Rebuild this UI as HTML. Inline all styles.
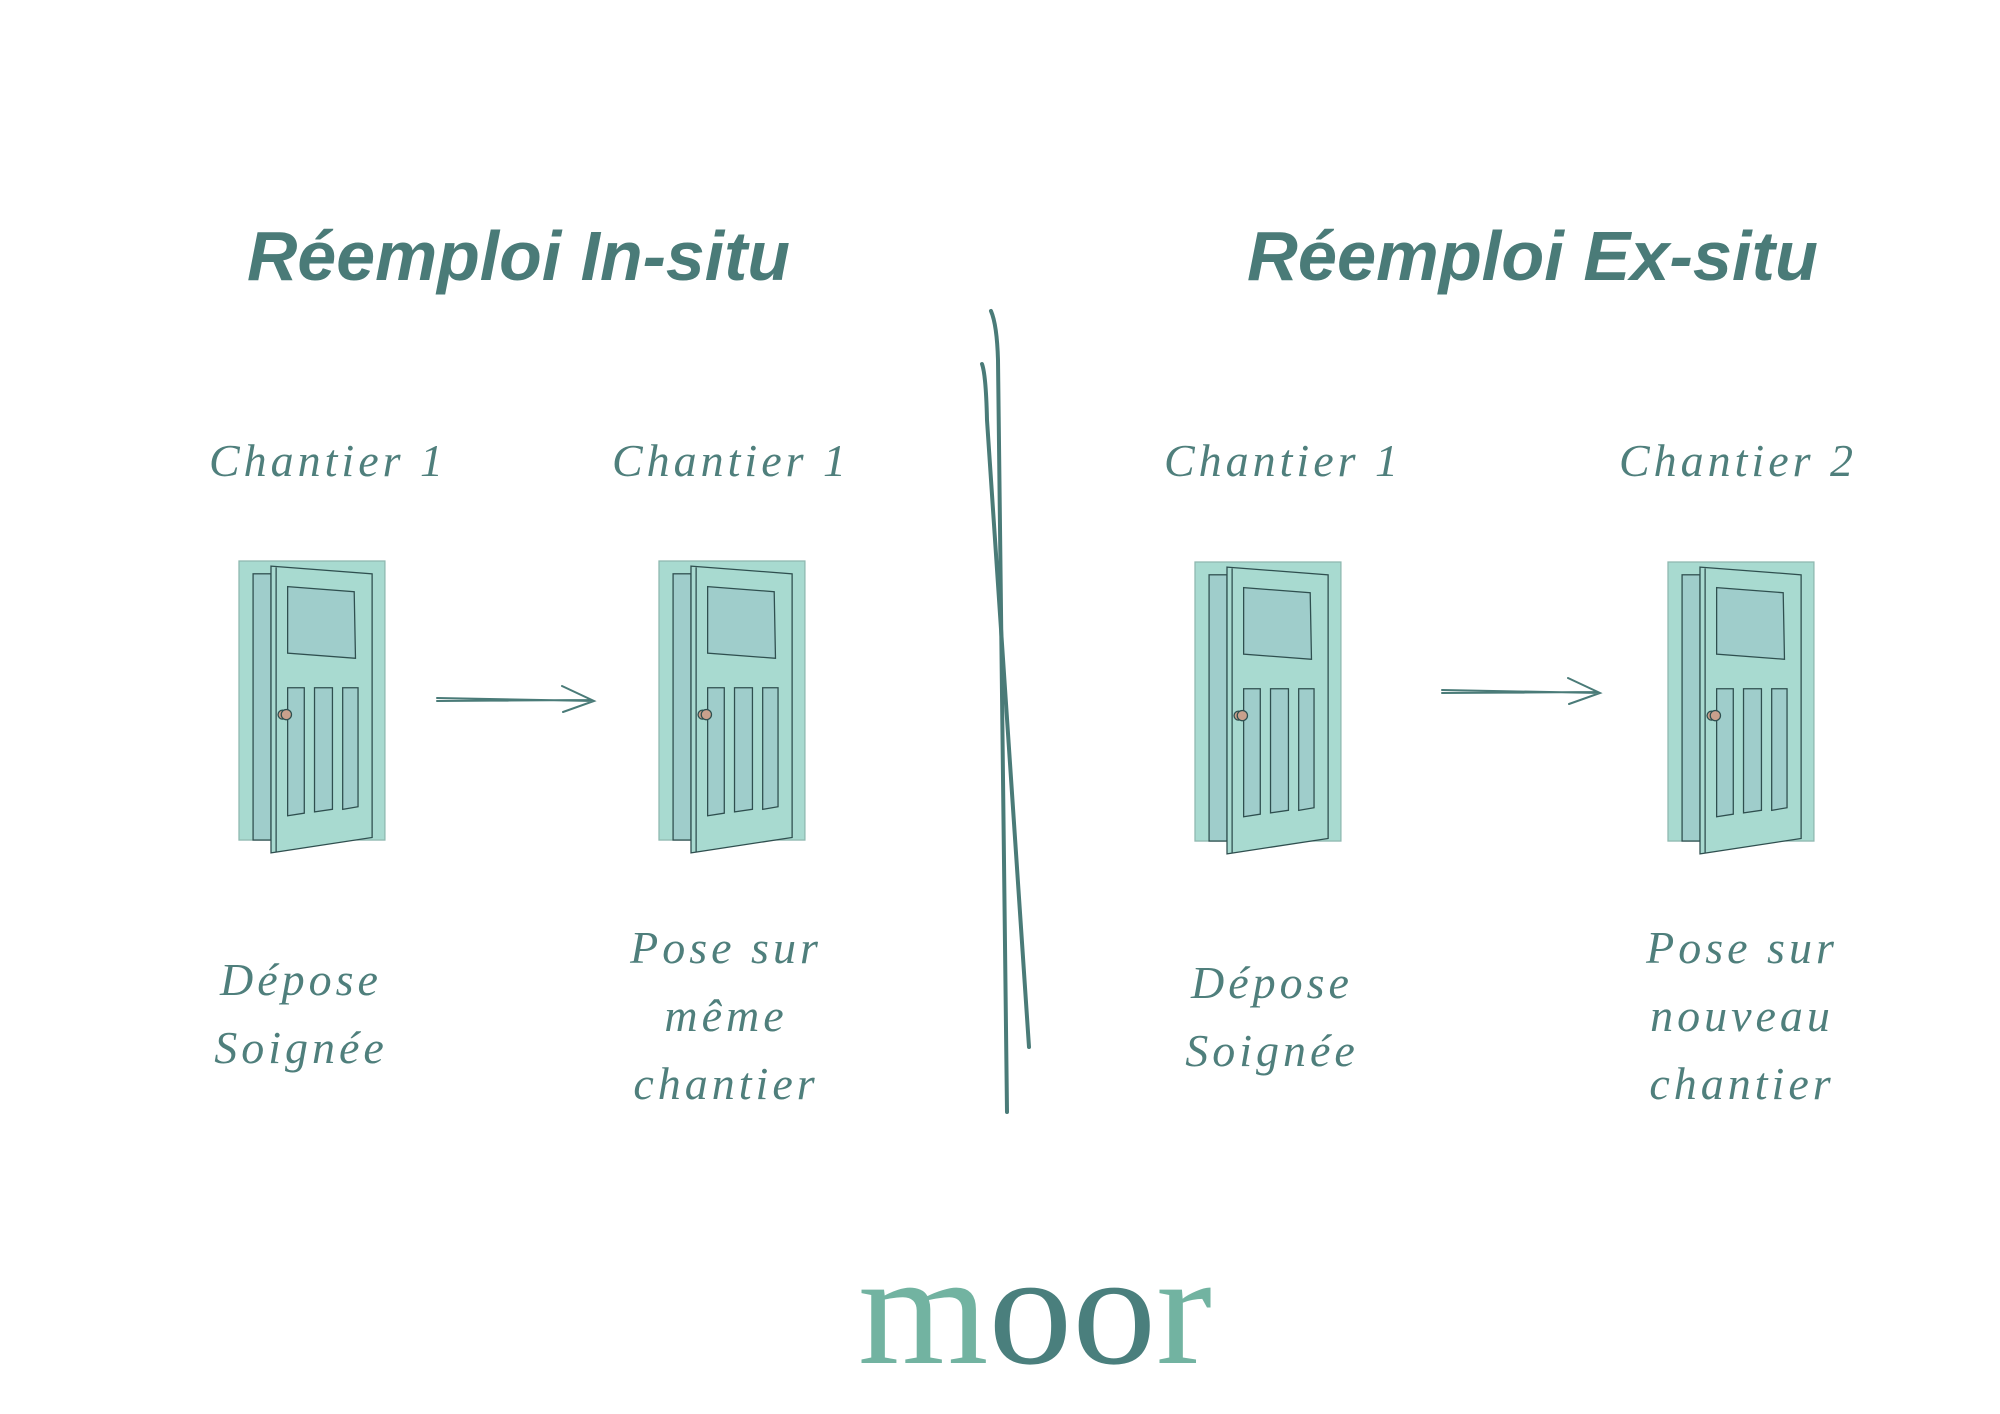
<!DOCTYPE html>
<html><head><meta charset="utf-8"><style>
html,body{margin:0;padding:0;background:#fff;}
svg{display:block;}
.t{font-family:"Liberation Sans",sans-serif;font-weight:bold;font-style:italic;fill:#4a7b78;font-size:70px;}
.s{font-family:"Liberation Serif",serif;font-style:italic;fill:#4f7f7c;font-size:46px;letter-spacing:4px;}
</style></head><body>
<svg width="2000" height="1414" viewBox="0 0 2000 1414" xmlns="http://www.w3.org/2000/svg">
<defs>
<g id="door" stroke="#2f4f4f" stroke-width="1">
<rect x="0" y="0" width="114" height="218" fill="#a8dad0" stroke="#8fb8b0"/>
<rect x="11" y="10" width="14" height="208" fill="#9fcdcb"/>
<polygon points="25,4 104,10 104,216 25,228" fill="#a8dad0"/>
<line x1="29" y1="5" x2="29" y2="227"/>
<polygon points="38,20 90,24 91,76 38,72" fill="#9fcdcb"/>
<polygon points="38,99 51,99 51,197 38,199" fill="#9fcdcb"/>
<polygon points="59,99 73,99 73,194 59,196" fill="#9fcdcb"/>
<polygon points="81,99 93,99 93,192 81,194" fill="#9fcdcb"/>
<circle cx="34" cy="120" r="3.5" fill="#c9a08c"/>
<circle cx="37" cy="120" r="4" fill="#c9a08c"/>
</g>
</defs>
<text class="t" x="247" y="280" textLength="543" lengthAdjust="spacingAndGlyphs">Réemploi In-situ</text>
<text class="t" x="1247" y="280" textLength="571" lengthAdjust="spacingAndGlyphs">Réemploi Ex-situ</text>
<path d="M991,311 Q997,325 998,360 L1007,1112" stroke="#4a7b78" stroke-width="4" fill="none" stroke-linecap="round"/>
<path d="M982,364 Q986,375 987,420 L1029,1047" stroke="#4a7b78" stroke-width="4" fill="none" stroke-linecap="round"/>
<g class="s" text-anchor="middle">
<text x="328" y="476">Chantier 1</text>
<text x="731" y="476">Chantier 1</text>
<text x="1283" y="476">Chantier 1</text>
<text x="1738" y="476">Chantier 2</text>
<text x="301" y="995">Dépose</text>
<text x="301" y="1063">Soignée</text>
<text x="726" y="963">Pose sur</text>
<text x="726" y="1031">même</text>
<text x="726" y="1099">chantier</text>
<text x="1272" y="998">Dépose</text>
<text x="1272" y="1066">Soignée</text>
<text x="1742" y="963">Pose sur</text>
<text x="1742" y="1031">nouveau</text>
<text x="1742" y="1099">chantier</text>
</g>
<use href="#door" transform="translate(239,561) scale(1.28)"/>
<use href="#door" transform="translate(659,561) scale(1.28)"/>
<use href="#door" transform="translate(1195,562) scale(1.28)"/>
<use href="#door" transform="translate(1668,562) scale(1.28)"/>
<g stroke="#4a7b78" stroke-width="2" fill="none" stroke-linecap="round">
<path d="M437,698 L594,701 M437,701 L590,700 M562,686 L594,701 L563,712"/>
<path d="M1442,690 L1600,693 M1442,693 L1596,692 M1568,678 L1600,693 L1569,704"/>
</g>
<text x="858" y="1363" font-family="Liberation Serif,serif" font-size="160" fill="#72b3a1" textLength="354" lengthAdjust="spacingAndGlyphs">m<tspan fill="#4a7f7d">oo</tspan>r</text>
</svg>
</body></html>
